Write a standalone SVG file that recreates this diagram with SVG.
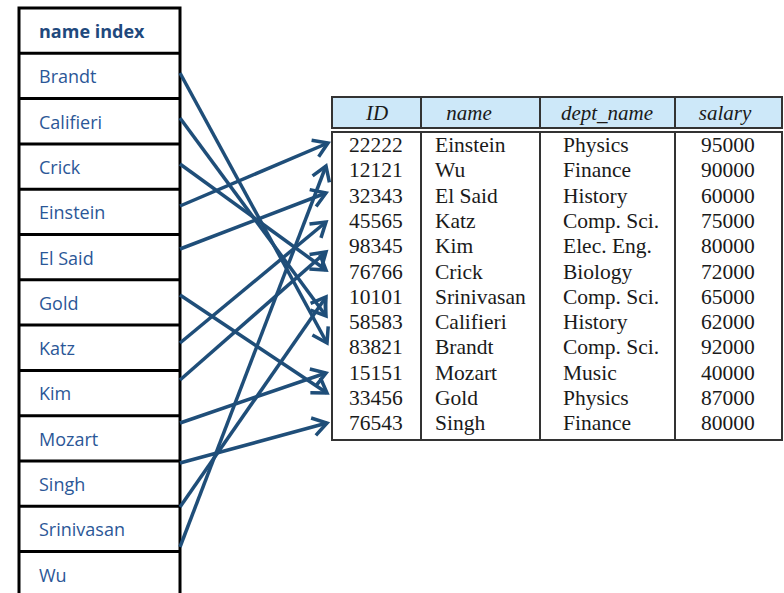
<svg xmlns="http://www.w3.org/2000/svg" width="784" height="593" viewBox="0 0 784 593">
<style>
.idx{font-family:"Open Sans","Liberation Sans",sans-serif;font-size:18px;fill:#2B5797}
.idxh{font-family:"Open Sans","Liberation Sans",sans-serif;font-size:18px;font-weight:bold;fill:#1F497D}
.cell{font-family:"Liberation Serif","DejaVu Serif",serif;font-size:21.5px;fill:#1a1a1a}
.hd{font-family:"Liberation Serif","DejaVu Serif",serif;font-size:21px;font-style:italic;fill:#1a1a1a}
.grid{stroke:#000;stroke-width:3;fill:none}
.tab{stroke:#333;stroke-width:2;fill:none}
.arr{stroke:#1F4E79;stroke-width:3.5;fill:none;marker-end:url(#ah)}
</style>
<defs>
<marker id="ah" markerUnits="userSpaceOnUse" markerWidth="24" markerHeight="24" refX="16" refY="10" orient="auto" viewBox="0 0 24 20">
<path d="M2,1 L16,10 L2,19" fill="none" stroke="#1F4E79" stroke-width="3.5" stroke-linejoin="miter"/>
</marker>
</defs>
<rect width="784" height="593" fill="#fff"/>
<g id="name_index">
<rect class="grid" x="19" y="8" width="161" height="600"/>
<g class="grid">
<line x1="19" y1="53.3" x2="180" y2="53.3"/>
<line x1="19" y1="98.6" x2="180" y2="98.6"/>
<line x1="19" y1="143.9" x2="180" y2="143.9"/>
<line x1="19" y1="189.2" x2="180" y2="189.2"/>
<line x1="19" y1="234.5" x2="180" y2="234.5"/>
<line x1="19" y1="279.8" x2="180" y2="279.8"/>
<line x1="19" y1="325.1" x2="180" y2="325.1"/>
<line x1="19" y1="370.4" x2="180" y2="370.4"/>
<line x1="19" y1="415.7" x2="180" y2="415.7"/>
<line x1="19" y1="461" x2="180" y2="461"/>
<line x1="19" y1="506.3" x2="180" y2="506.3"/>
<line x1="19" y1="551.6" x2="180" y2="551.6"/>
</g>
<text class="idxh" x="39" y="38">name index</text>
<text class="idx" x="39" y="83.3">Brandt</text>
<text class="idx" x="39" y="128.6">Califieri</text>
<text class="idx" x="39" y="173.9">Crick</text>
<text class="idx" x="39" y="219.2">Einstein</text>
<text class="idx" x="39" y="264.5">El Said</text>
<text class="idx" x="39" y="309.8">Gold</text>
<text class="idx" x="39" y="355.1">Katz</text>
<text class="idx" x="39" y="400.4">Kim</text>
<text class="idx" x="39" y="445.7">Mozart</text>
<text class="idx" x="39" y="491">Singh</text>
<text class="idx" x="39" y="536.3">Srinivasan</text>
<text class="idx" x="39" y="581.6">Wu</text>
</g>
<g id="instructor_table">
<rect x="332" y="97" width="450" height="31" fill="#CDE8F9" stroke="#333" stroke-width="2"/>
<rect class="tab" x="332" y="132" width="450" height="308"/>
<g class="tab">
<line x1="421" y1="97" x2="421" y2="128"/>
<line x1="540" y1="97" x2="540" y2="128"/>
<line x1="675" y1="97" x2="675" y2="128"/>
<line x1="421" y1="132" x2="421" y2="440"/>
<line x1="540" y1="132" x2="540" y2="440"/>
<line x1="675" y1="132" x2="675" y2="440"/>
</g>
<text class="hd" x="377" y="120" text-anchor="middle">ID</text>
<text class="hd" x="469" y="120" text-anchor="middle">name</text>
<text class="hd" x="607" y="120" text-anchor="middle">dept_name</text>
<text class="hd" x="725" y="120" text-anchor="middle">salary</text>
<g class="cell">
<text x="349" y="152">22222</text><text x="435" y="152">Einstein</text><text x="563" y="152">Physics</text><text x="701" y="152">95000</text>
<text x="349" y="177.3">12121</text><text x="435" y="177.3">Wu</text><text x="563" y="177.3">Finance</text><text x="701" y="177.3">90000</text>
<text x="349" y="202.6">32343</text><text x="435" y="202.6">El Said</text><text x="563" y="202.6">History</text><text x="701" y="202.6">60000</text>
<text x="349" y="227.9">45565</text><text x="435" y="227.9">Katz</text><text x="563" y="227.9">Comp. Sci.</text><text x="701" y="227.9">75000</text>
<text x="349" y="253.2">98345</text><text x="435" y="253.2">Kim</text><text x="563" y="253.2">Elec. Eng.</text><text x="701" y="253.2">80000</text>
<text x="349" y="278.5">76766</text><text x="435" y="278.5">Crick</text><text x="563" y="278.5">Biology</text><text x="701" y="278.5">72000</text>
<text x="349" y="303.8">10101</text><text x="435" y="303.8">Srinivasan</text><text x="563" y="303.8">Comp. Sci.</text><text x="701" y="303.8">65000</text>
<text x="349" y="329.1">58583</text><text x="435" y="329.1">Califieri</text><text x="563" y="329.1">History</text><text x="701" y="329.1">62000</text>
<text x="349" y="354.4">83821</text><text x="435" y="354.4">Brandt</text><text x="563" y="354.4">Comp. Sci.</text><text x="701" y="354.4">92000</text>
<text x="349" y="379.7">15151</text><text x="435" y="379.7">Mozart</text><text x="563" y="379.7">Music</text><text x="701" y="379.7">40000</text>
<text x="349" y="405">33456</text><text x="435" y="405">Gold</text><text x="563" y="405">Physics</text><text x="701" y="405">87000</text>
<text x="349" y="430.3">76543</text><text x="435" y="430.3">Singh</text><text x="563" y="430.3">Finance</text><text x="701" y="430.3">80000</text>
</g>
</g>
<g id="connectors">
<line class="arr" x1="180" y1="73" x2="327" y2="343"/>
<line class="arr" x1="180" y1="118" x2="326" y2="316"/>
<line class="arr" x1="180" y1="164" x2="326" y2="270"/>
<line class="arr" x1="180" y1="206" x2="328" y2="143"/>
<line class="arr" x1="180" y1="249" x2="326" y2="193"/>
<line class="arr" x1="180" y1="295" x2="327" y2="393"/>
<line class="arr" x1="180" y1="343" x2="326" y2="222"/>
<line class="arr" x1="180" y1="380" x2="326" y2="252"/>
<line class="arr" x1="180" y1="423" x2="326" y2="373"/>
<line class="arr" x1="180" y1="463" x2="327" y2="423"/>
<line class="arr" x1="180" y1="507" x2="326" y2="297"/>
<line class="arr" x1="180" y1="547" x2="326" y2="166"/>
</g>
</svg>
